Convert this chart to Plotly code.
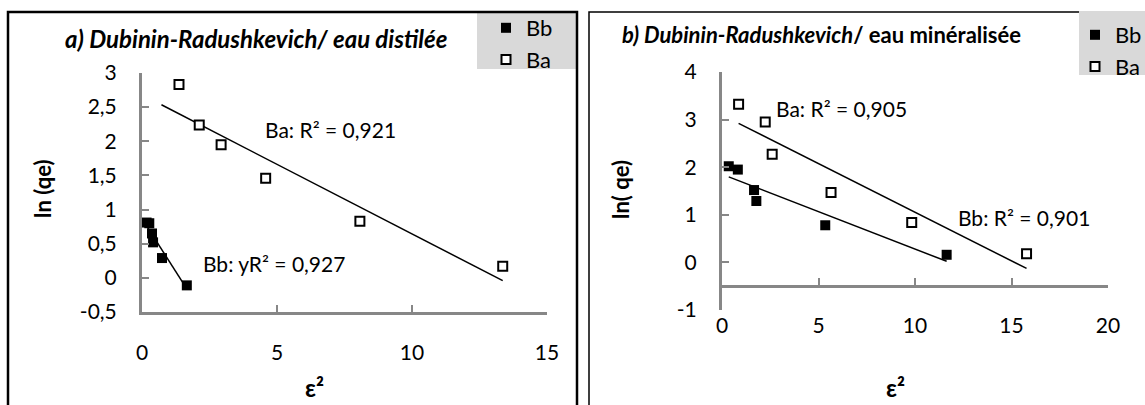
import numpy as np
import plotly.graph_objects as go

# a) eau distilée
a_bb_x = [0.17, 0.27, 0.37, 0.41, 0.74, 1.66]
a_bb_y = [0.81, 0.80, 0.65, 0.52, 0.29, -0.11]
a_ba_x = [1.37, 2.12, 2.93, 4.58, 8.07, 13.36]
a_ba_y = [2.83, 2.24, 1.95, 1.46, 0.83, 0.17]

# b) eau minéralisée
b_bb_x = [0.35, 0.82, 1.66, 1.78, 5.35, 11.64]
b_bb_y = [2.02, 1.95, 1.52, 1.29, 0.78, 0.16]
b_ba_x = [0.86, 2.24, 2.60, 5.65, 9.83, 15.78]
b_ba_y = [3.32, 2.95, 2.27, 1.47, 0.84, 0.18]

a_yticks = [-0.5, 0, 0.5, 1, 1.5, 2, 2.5, 3]
a_yticklabels = ["-0,5", "0", "0,5", "1", "1,5", "2", "2,5", "3"]
b_yticks = [-1, 0, 1, 2, 3, 4]
b_yticklabels = ["-1", "0", "1", "2", "3", "4"]

a_r2 = {"Ba": "Ba: R² = 0,921", "Bb": "Bb: yR² = 0,927"}
b_r2 = {"Ba": "Ba: R² = 0,905", "Bb": "Bb: R² = 0,901"}

W, H = 1145, 405
FONT = "Lato, 'Open Sans', sans-serif"
AXIS_GREY = "#878787"


def px(x):
    return x / W


def py(y):
    return 1 - y / H


def trend(x, y, backward=0.0):
    slope, icpt = np.polyfit(x, y, 1)
    xs = [min(x) - backward, max(x)]
    return xs, [slope * v + icpt for v in xs]


def label(text, x, y, size, angle=0, xref="paper", yref="paper"):
    return dict(text=text, xref=xref, yref=yref, x=x, y=y, xanchor="center",
                yanchor="middle", textangle=angle, showarrow=False,
                font=dict(size=size))


fig = go.Figure()

filled = dict(symbol="square", size=10, color="black")
opened = dict(symbol="square", size=9, color="white", line=dict(color="black", width=2))

# panel a
tx, ty = trend(a_bb_x, a_bb_y)
fig.add_trace(go.Scatter(x=tx, y=ty, mode="lines", line=dict(color="black", width=1.5),
                         showlegend=False, xaxis="x", yaxis="y"))
tx, ty = trend(a_ba_x, a_ba_y, backward=0.65)
fig.add_trace(go.Scatter(x=tx, y=ty, mode="lines", line=dict(color="black", width=1.5),
                         showlegend=False, xaxis="x", yaxis="y"))
fig.add_trace(go.Scatter(x=a_bb_x, y=a_bb_y, mode="markers", name="Bb", marker=filled,
                         xaxis="x", yaxis="y", legend="legend"))
fig.add_trace(go.Scatter(x=a_ba_x, y=a_ba_y, mode="markers", name="Ba", marker=opened,
                         xaxis="x", yaxis="y", legend="legend"))

# panel b
tx, ty = trend(b_bb_x, b_bb_y)
fig.add_trace(go.Scatter(x=tx, y=ty, mode="lines", line=dict(color="black", width=1.5),
                         showlegend=False, xaxis="x2", yaxis="y2"))
tx, ty = trend(b_ba_x, b_ba_y)
fig.add_trace(go.Scatter(x=tx, y=ty, mode="lines", line=dict(color="black", width=1.5),
                         showlegend=False, xaxis="x2", yaxis="y2"))
fig.add_trace(go.Scatter(x=b_bb_x, y=b_bb_y, mode="markers", name="Bb", marker=filled,
                         xaxis="x2", yaxis="y2", legend="legend2"))
fig.add_trace(go.Scatter(x=b_ba_x, y=b_ba_y, mode="markers", name="Ba", marker=opened,
                         xaxis="x2", yaxis="y2", legend="legend2"))

axis_common = dict(showline=True, linecolor=AXIS_GREY, linewidth=3, ticks="inside",
                   tickcolor=AXIS_GREY, tickwidth=2, ticklen=7, showgrid=False,
                   zeroline=False, automargin=False,
                   tickfont=dict(family=FONT, size=21, color="black"))

b_ydom = [py(310), py(72)]
b_xpos = b_ydom[0] + (0.5 / 5) * (b_ydom[1] - b_ydom[0])

fig.update_layout(
    width=W, height=H,
    margin=dict(l=0, r=0, t=0, b=0, autoexpand=False),
    plot_bgcolor="white", paper_bgcolor="white",
    font=dict(family=FONT, color="black"),
    xaxis=dict(axis_common, domain=[px(142), px(547)], range=[0, 15],
               tickvals=[0, 5, 10, 15], anchor="y", ticklabelstandoff=20),
    yaxis=dict(axis_common, domain=[py(312), py(73)], range=[-0.5, 3],
               tickvals=a_yticks, ticktext=a_yticklabels, anchor="x", ticklabelstandoff=18),
    xaxis2=dict(axis_common, domain=[px(722), px(1108)], range=[0, 20],
                tickvals=[0, 5, 10, 15, 20], anchor="free", position=b_xpos,
                ticklabelstandoff=20),
    yaxis2=dict(axis_common, domain=b_ydom, range=[-1, 4],
                tickvals=b_yticks, ticktext=b_yticklabels, anchor="x2", ticklabelstandoff=18),
    legend=dict(x=px(486), y=py(7), xanchor="left", yanchor="top",
                bgcolor="rgba(0,0,0,0)", font=dict(family=FONT, size=22),
                tracegroupgap=0, itemwidth=30),
    legend2=dict(x=px(1075), y=py(14), xanchor="left", yanchor="top",
                 bgcolor="rgba(0,0,0,0)", font=dict(family=FONT, size=22),
                 tracegroupgap=0, itemwidth=30),
    shapes=[
        dict(type="rect", xref="paper", yref="paper", x0=px(477), x1=px(577),
             y0=py(69), y1=py(12), fillcolor="#d9d9d9", line=dict(width=0), layer="below"),
        dict(type="rect", xref="paper", yref="paper", x0=px(8), x1=px(577),
             y0=-0.1, y1=py(12), line=dict(color="black", width=2.5)),
        dict(type="rect", xref="paper", yref="paper", x0=px(589), x1=1.1,
             y0=-0.1, y1=py(12), line=dict(color="black", width=1.5)),
        dict(type="rect", xref="paper", yref="paper", x0=px(1079), x1=1.05,
             y0=py(75), y1=py(11), fillcolor="#d9d9d9", line=dict(width=0)),
    ],
    annotations=[
        label("<b><i>a) Dubinin-Radushkevich/ eau distilée</i></b>", px(256), py(38), 24),
        label("<b><i>b) Dubinin-Radushkevich</i>/ eau minéralisée</b>", px(821), py(35), 22),
        label("<b>ln (qe)</b>", px(42), py(189), 22, angle=-90),
        label("<b>ln( qe)</b>", px(620), py(190), 22, angle=-90),
        label("<b>ε²</b>", px(314), py(387), 24),
        label("<b>ε²</b>", px(895), py(387), 24),
        label(a_r2["Ba"], 6.98, 2.17, 21, xref="x", yref="y"),
        label(a_r2["Bb"], 4.9, 0.21, 21, xref="x", yref="y"),
        label(b_r2["Ba"], 6.17, 3.24, 21, xref="x2", yref="y2"),
        label(b_r2["Bb"], 15.65, 0.95, 21, xref="x2", yref="y2"),
    ],
)

fig.write_html("out.html", config={"displayModeBar": False},
               post_script="document.body.style.margin='0';")
